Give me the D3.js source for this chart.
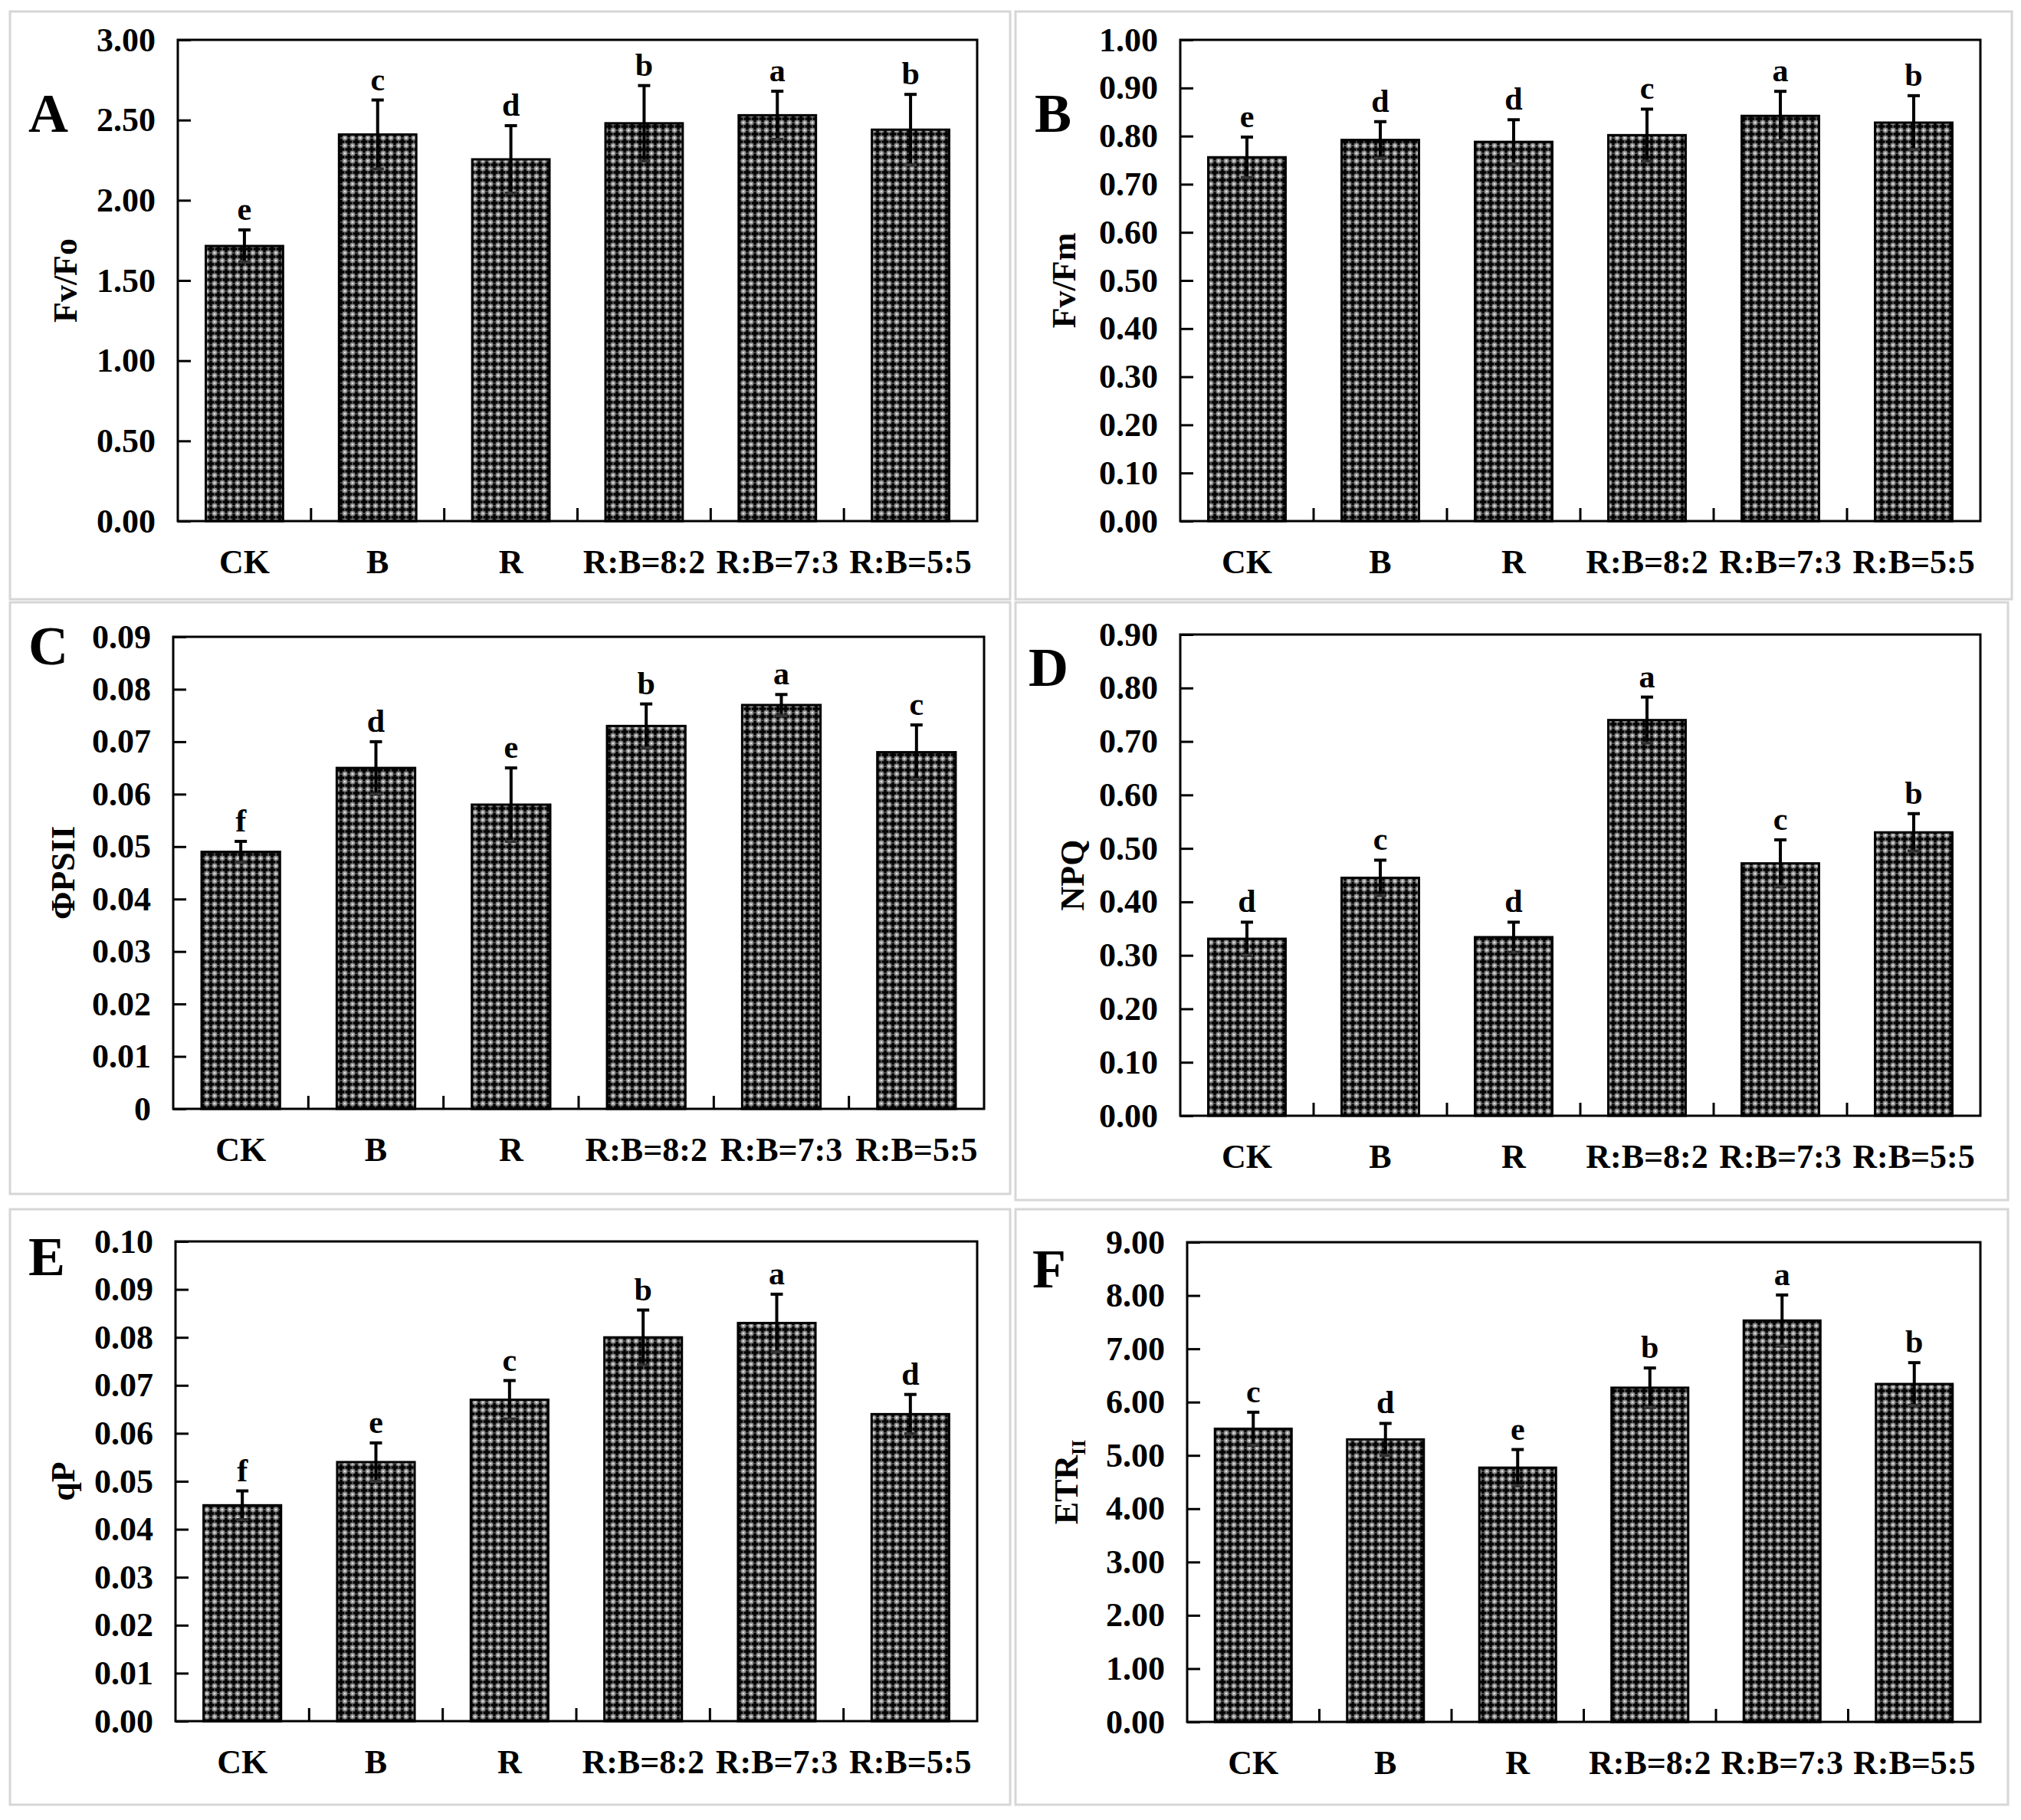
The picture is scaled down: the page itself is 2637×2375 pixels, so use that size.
<!DOCTYPE html>
<html>
<head>
<meta charset="utf-8">
<script src="https://cdn.jsdelivr.net/npm/d3@7"></script>
<style>
  body { margin: 0; background: #fff; }
  text { font-family: "Liberation Serif", "Times New Roman", serif; font-weight: bold; fill: #000; }
</style>
</head>
<body>
<svg id="fig"></svg>
<script>
const categories = ["CK", "B", "R", "R:B=8:2", "R:B=7:3", "R:B=5:5"];

// A  Fv/Fo
const fvfoMean = [1.715, 2.41, 2.255, 2.48, 2.53, 2.44];
const fvfoErr  = [0.10, 0.215, 0.21, 0.235, 0.15, 0.22];
const fvfoSig  = ["e", "c", "d", "b", "a", "b"];
const fvfoTicks = ["0.00", "0.50", "1.00", "1.50", "2.00", "2.50", "3.00"];

// B  Fv/Fm
const fvfmMean = [0.756, 0.792, 0.788, 0.802, 0.842, 0.828];
const fvfmErr  = [0.042, 0.038, 0.046, 0.054, 0.051, 0.056];
const fvfmSig  = ["e", "d", "d", "c", "a", "b"];
const fvfmTicks = ["0.00", "0.10", "0.20", "0.30", "0.40", "0.50", "0.60", "0.70", "0.80", "0.90", "1.00"];

// C  ΦPSII
const phiMean = [0.049, 0.065, 0.058, 0.073, 0.077, 0.068];
const phiErr  = [0.002, 0.005, 0.007, 0.0042, 0.002, 0.0052];
const phiSig  = ["f", "d", "e", "b", "a", "c"];
const phiTicks = ["0", "0.01", "0.02", "0.03", "0.04", "0.05", "0.06", "0.07", "0.08", "0.09"];

// D  NPQ
const npqMean = [0.331, 0.445, 0.334, 0.740, 0.472, 0.530];
const npqErr  = [0.031, 0.033, 0.028, 0.043, 0.044, 0.035];
const npqSig  = ["d", "c", "d", "a", "c", "b"];
const npqTicks = ["0.00", "0.10", "0.20", "0.30", "0.40", "0.50", "0.60", "0.70", "0.80", "0.90"];

// E  qP
const qpMean = [0.045, 0.054, 0.067, 0.080, 0.083, 0.064];
const qpErr  = [0.003, 0.004, 0.004, 0.0057, 0.006, 0.0041];
const qpSig  = ["f", "e", "c", "b", "a", "d"];
const qpTicks = ["0.00", "0.01", "0.02", "0.03", "0.04", "0.05", "0.06", "0.07", "0.08", "0.09", "0.10"];

// F  ETRII
const etrMean = [5.50, 5.30, 4.77, 6.27, 7.53, 6.34];
const etrErr  = [0.31, 0.30, 0.34, 0.37, 0.48, 0.40];
const etrSig  = ["c", "d", "e", "b", "a", "b"];
const etrTicks = ["0.00", "1.00", "2.00", "3.00", "4.00", "5.00", "6.00", "7.00", "8.00", "9.00"];

const svg = d3.select('#fig')
    .attr('width', 2637)
    .attr('height', 2375);

svg.append('rect').attr('width', 2637).attr('height', 2375).attr('fill', '#fff');

// dark crosshatch fill like the original bars
const pat = svg.append('defs').append('pattern')
    .attr('id', 'hatch')
    .attr('patternUnits', 'userSpaceOnUse')
    .attr('width', 10).attr('height', 10);
pat.append('rect').attr('width', 10).attr('height', 10).attr('fill', '#4a4a4a');
[[0, 0], [10, 0], [0, 10], [10, 10]].forEach(c => {
    pat.append('circle').attr('cx', c[0]).attr('cy', c[1]).attr('r', 3).attr('fill', '#9c9c9c');
    pat.append('circle').attr('cx', c[0]).attr('cy', c[1]).attr('r', 1.1).attr('fill', '#f4f4f4');
});
pat.append('rect').attr('x', 3.5).attr('y', 1).attr('width', 3).attr('height', 8).attr('fill', '#000');
pat.append('rect').attr('x', 1).attr('y', 3.5).attr('width', 8).attr('height', 3).attr('fill', '#000');

const panels = [
    { letter: "A", box: [13, 15, 1318, 782], plot: { l: 232, r: 1275, t: 52, b: 680 }, lpos: [37, 172], tdx: 132,
      title: "Fv/Fo", means: fvfoMean, errs: fvfoErr, sig: fvfoSig, ticks: fvfoTicks },
    { letter: "B", box: [1325, 15, 2625, 782], plot: { l: 1540, r: 2584, t: 52, b: 680 }, lpos: [1350, 172], tdx: 137,
      title: "Fv/Fm", means: fvfmMean, errs: fvfmErr, sig: fvfmSig, ticks: fvfmTicks },
    { letter: "C", box: [13, 786, 1318, 1558], plot: { l: 226, r: 1284, t: 831, b: 1447 }, lpos: [37, 867], tdx: 129,
      title: "ΦPSII", means: phiMean, errs: phiErr, sig: phiSig, ticks: phiTicks },
    { letter: "D", box: [1325, 786, 2620, 1566], plot: { l: 1540, r: 2584, t: 828, b: 1456 }, lpos: [1342, 895], tdx: 126,
      title: "NPQ", means: npqMean, errs: npqErr, sig: npqSig, ticks: npqTicks },
    { letter: "E", box: [13, 1578, 1318, 2355], plot: { l: 229, r: 1275, t: 1620, b: 2246 }, lpos: [37, 1664], tdx: 132,
      title: "qP", means: qpMean, errs: qpErr, sig: qpSig, ticks: qpTicks },
    { letter: "F", box: [1325, 1578, 2620, 2355], plot: { l: 1549, r: 2584, t: 1621, b: 2247 }, lpos: [1347, 1680], tdx: 143,
      title: "ETR", sub: "II", means: etrMean, errs: etrErr, sig: etrSig, ticks: etrTicks }
];

panels.forEach(drawPanel);

function drawPanel(p) {
    const g = svg.append('g');

    // light grey frame around each sub-figure
    g.append('rect')
        .attr('x', p.box[0]).attr('y', p.box[1])
        .attr('width', p.box[2] - p.box[0]).attr('height', p.box[3] - p.box[1])
        .attr('fill', 'none').attr('stroke', '#d6d6d6').attr('stroke-width', 3);

    const x = d3.scaleBand()
        .domain(categories)
        .range([p.plot.l, p.plot.r])
        .paddingInner(0.42)
        .paddingOuter(0.21);

    const tickVals = p.ticks.map(Number);
    const y = d3.scaleLinear()
        .domain([0, d3.max(tickVals)])
        .range([p.plot.b, p.plot.t]);

    const rows = categories.map((c, i) => ({ cat: c, mean: p.means[i], err: p.errs[i], sig: p.sig[i] }));

    // bars
    g.selectAll('.bar')
        .data(rows)
        .enter().append('rect')
        .attr('class', 'bar')
        .attr('x', d => x(d.cat))
        .attr('y', d => y(d.mean))
        .attr('width', x.bandwidth())
        .attr('height', d => y(0) - y(d.mean))
        .attr('fill', 'url(#hatch)')
        .attr('stroke', '#000')
        .attr('stroke-width', 3);

    // error bars
    const eb = g.selectAll('.err')
        .data(rows)
        .enter().append('g')
        .attr('class', 'err')
        .attr('stroke', '#000')
        .attr('stroke-width', 4);
    const cx = d => x(d.cat) + x.bandwidth() / 2;
    eb.append('line')
        .attr('x1', cx).attr('x2', cx)
        .attr('y1', d => y(d.mean - d.err))
        .attr('y2', d => y(d.mean + d.err));
    eb.append('line')
        .attr('x1', d => cx(d) - 8).attr('x2', d => cx(d) + 8)
        .attr('y1', d => y(d.mean + d.err))
        .attr('y2', d => y(d.mean + d.err));
    eb.append('line')
        .attr('x1', d => cx(d) - 8).attr('x2', d => cx(d) + 8)
        .attr('y1', d => y(d.mean - d.err))
        .attr('y2', d => y(d.mean - d.err))
        .attr('stroke', '#333');

    // significance letters
    g.selectAll('.sig')
        .data(rows)
        .enter().append('text')
        .attr('class', 'sig')
        .attr('x', cx)
        .attr('y', d => y(d.mean + d.err) - 13)
        .attr('text-anchor', 'middle')
        .style('font-size', '42px')
        .text(d => d.sig);

    // y axis, ticks pointing inward
    const yAxis = d3.axisLeft(y)
        .tickValues(tickVals)
        .tickFormat((d, i) => p.ticks[i])
        .tickSizeInner(-17)
        .tickSizeOuter(0)
        .tickPadding(29);
    const ya = g.append('g')
        .attr('transform', `translate(${p.plot.l},0)`)
        .call(yAxis);
    ya.attr('font-family', null).attr('font-size', null);
    ya.selectAll('line').attr('stroke-width', 3);
    ya.select('.domain').remove();
    ya.selectAll('text').style('font-size', '44px');

    // x axis labels
    const xAxis = d3.axisBottom(x).tickSize(0).tickPadding(37);
    const xa = g.append('g')
        .attr('transform', `translate(0,${p.plot.b})`)
        .call(xAxis);
    xa.attr('font-family', null).attr('font-size', null);
    xa.select('.domain').remove();
    xa.selectAll('text').style('font-size', '44px');

    // small ticks between categories
    const bounds = categories.slice(0, -1).map(c => x(c) + x.bandwidth() + (x.step() - x.bandwidth()) / 2);
    g.selectAll('.sep')
        .data(bounds)
        .enter().append('line')
        .attr('x1', d => d).attr('x2', d => d)
        .attr('y1', p.plot.b).attr('y2', p.plot.b - 17)
        .attr('stroke', '#000').attr('stroke-width', 3);

    // plot frame
    g.append('rect')
        .attr('x', p.plot.l).attr('y', p.plot.t)
        .attr('width', p.plot.r - p.plot.l).attr('height', p.plot.b - p.plot.t)
        .attr('fill', 'none').attr('stroke', '#000').attr('stroke-width', 3);

    // panel letter
    g.append('text')
        .attr('x', p.lpos[0]).attr('y', p.lpos[1])
        .style('font-size', '72px')
        .text(p.letter);

    // y title
    const t = g.append('text')
        .attr('transform', `translate(${p.plot.l - p.tdx},${(p.plot.t + p.plot.b) / 2}) rotate(-90)`)
        .attr('text-anchor', 'middle')
        .style('font-size', '44px');
    t.append('tspan').text(p.title);
    if (p.sub) {
        t.append('tspan').attr('dy', 10).style('font-size', '26px').text(p.sub);
    }
}
</script>
</body>
</html>
